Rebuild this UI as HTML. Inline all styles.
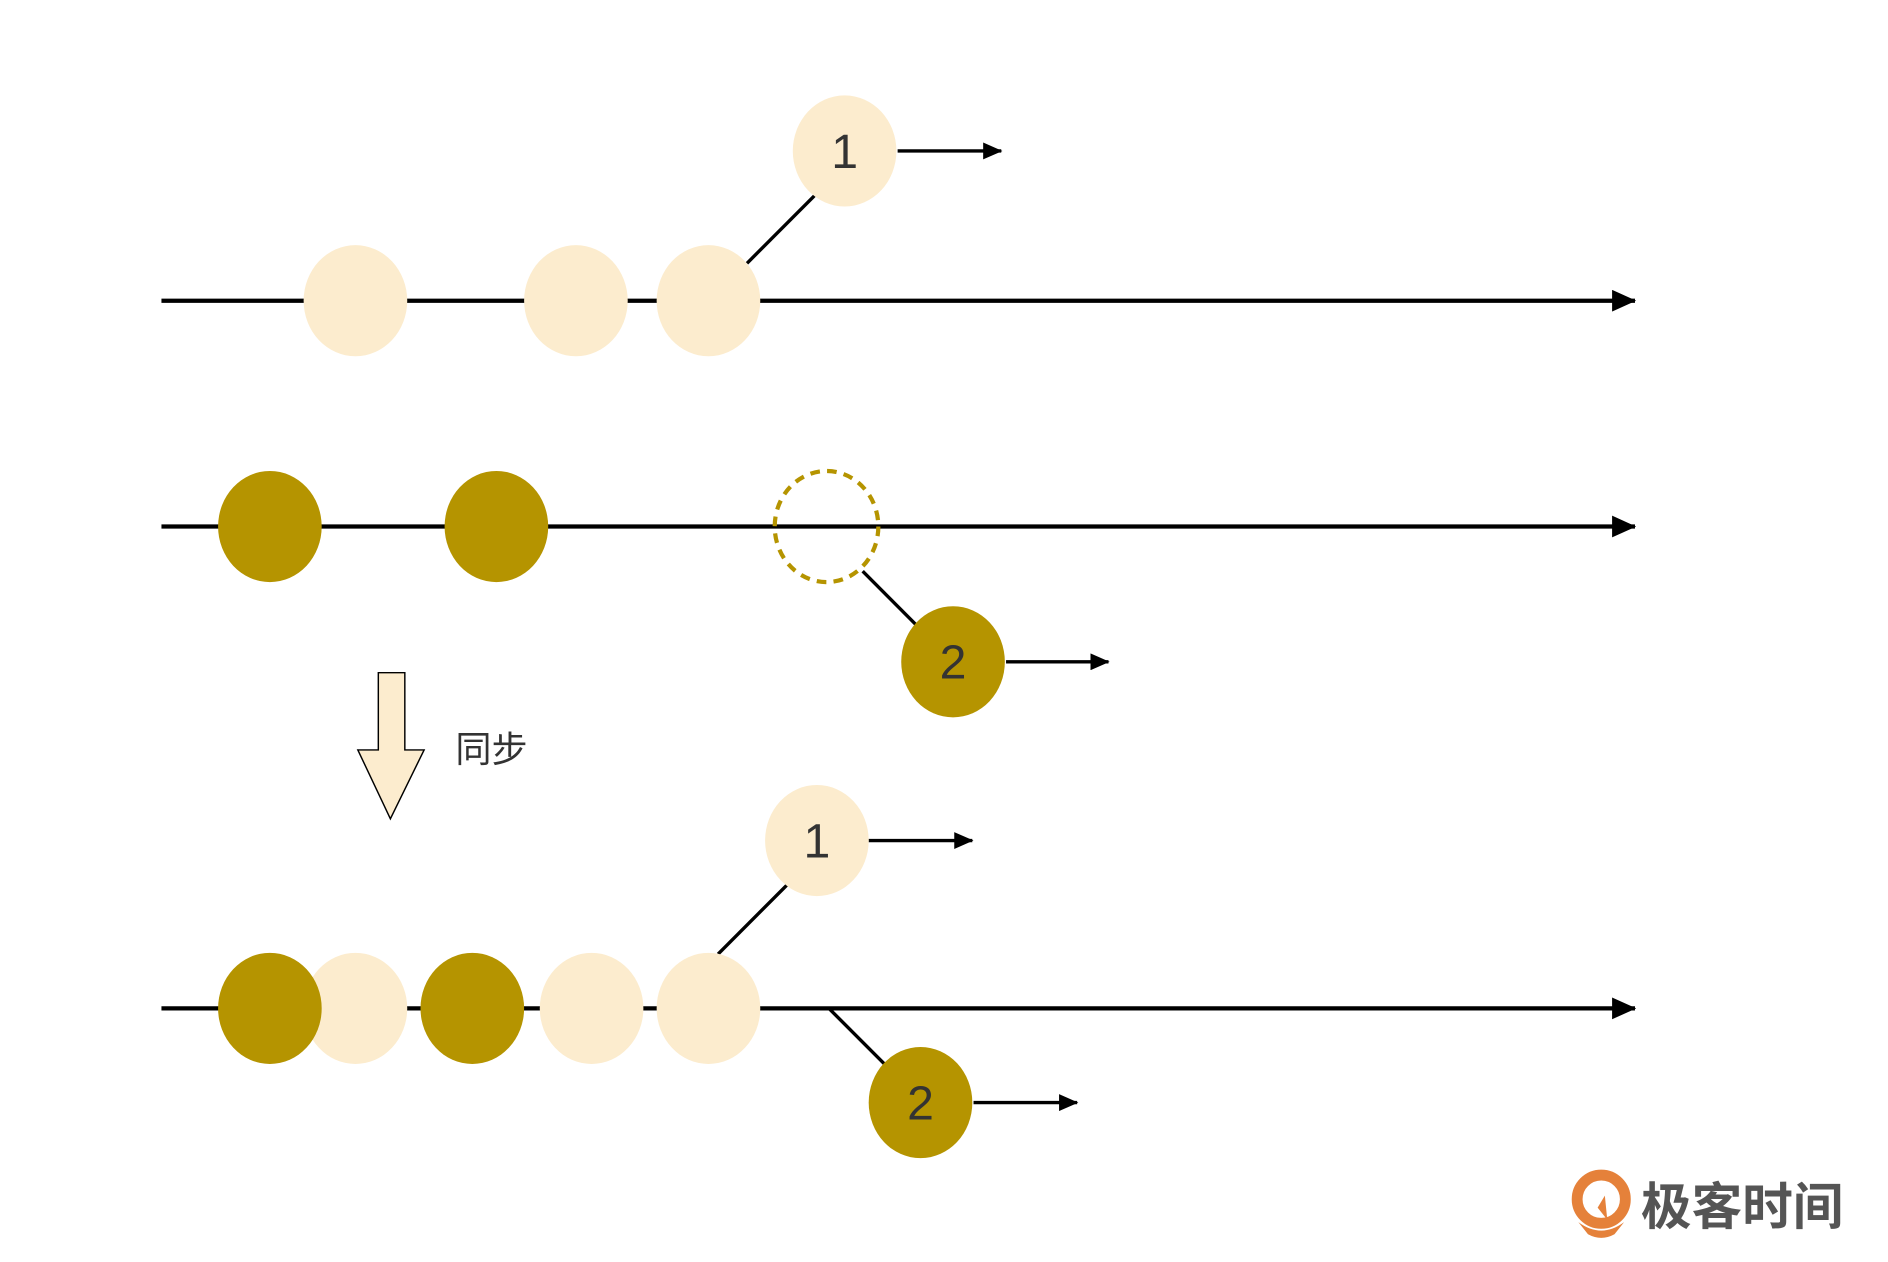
<!DOCTYPE html>
<html><head><meta charset="utf-8"><style>html,body{margin:0;padding:0;background:#fff}svg{display:block}</style></head>
<body>
<svg width="1888" height="1262" viewBox="0 0 1567 1045" preserveAspectRatio="none" xmlns="http://www.w3.org/2000/svg">
<defs><marker id="a" markerWidth="16" markerHeight="14" refX="15" refY="7" orient="auto" markerUnits="userSpaceOnUse"><path d="M0,0 L16,7 L0,14 z" fill="#000"/></marker>
<marker id="b" markerWidth="20" markerHeight="18" refX="19" refY="9" orient="auto" markerUnits="userSpaceOnUse"><path d="M0,0 L20,9 L0,18 z" fill="#000"/></marker></defs>
<g stroke="#000" stroke-width="3.5" fill="none">
<line x1="134" y1="249" x2="1357" y2="249" marker-end="url(#b)"/>
<line x1="134" y1="436" x2="1357" y2="436" marker-end="url(#b)"/>
<line x1="134" y1="835" x2="1357" y2="835" marker-end="url(#b)"/>
</g>
<g stroke="#000" stroke-width="2.8" fill="none">
<line x1="620" y1="218" x2="676" y2="162"/>
<line x1="745" y1="125" x2="831" y2="125" marker-end="url(#a)"/>
<line x1="716" y1="473" x2="762" y2="519"/>
<line x1="835" y1="548" x2="920" y2="548" marker-end="url(#a)"/>
<line x1="596" y1="790" x2="653" y2="733"/>
<line x1="721" y1="696" x2="807" y2="696" marker-end="url(#a)"/>
<line x1="688" y1="835" x2="736" y2="883"/>
<line x1="808" y1="913" x2="894" y2="913" marker-end="url(#a)"/>
</g>
<g fill="#fcecce">
<ellipse cx="295" cy="249" rx="43" ry="46"/><ellipse cx="478" cy="249" rx="43" ry="46"/><ellipse cx="588" cy="249" rx="43" ry="46"/>
<ellipse cx="701" cy="125" rx="43" ry="46"/>
<ellipse cx="295" cy="835" rx="43" ry="46"/><ellipse cx="491" cy="835" rx="43" ry="46"/><ellipse cx="588" cy="835" rx="43" ry="46"/>
<ellipse cx="678" cy="696" rx="43" ry="46"/>
</g>
<g fill="#b59400">
<ellipse cx="224" cy="436" rx="43" ry="46"/><ellipse cx="412" cy="436" rx="43" ry="46"/>
<ellipse cx="791" cy="548" rx="43" ry="46"/>
<ellipse cx="224" cy="835" rx="43" ry="46"/><ellipse cx="392" cy="835" rx="43" ry="46"/>
<ellipse cx="764" cy="913" rx="43" ry="46"/>
</g>
<ellipse cx="686" cy="436" rx="43" ry="46" fill="none" stroke="#b59400" stroke-width="3.5" stroke-dasharray="8,6"/>
<g font-family="Liberation Sans, sans-serif" font-size="40" fill="#333" text-anchor="middle">
<text x="701" y="139">1</text><text x="678" y="710">1</text>
<text x="791" y="562">2</text><text x="764" y="927">2</text>
</g>
<path d="M314,557 L336,557 L336,621 L352,621 L324,678 L297,621 L314,621 z" fill="#fcecce" stroke="#000" stroke-width="1.2"/>
<text x="378" y="631" font-family="Liberation Sans, Noto Sans CJK SC, sans-serif" font-size="30" fill="#333">同步</text>
<g>
<circle cx="1329" cy="993" r="20" fill="none" stroke="#e5813a" stroke-width="9"/>
<path d="M1310,1012 Q1329,1026 1348,1012 L1340,1022 Q1329,1028 1318,1022 z" fill="#e5813a"/>
<path d="M1326,1000 L1332,990 L1334,1010 z" fill="#e5813a"/>
<text x="1362" y="1014" font-family="Liberation Sans, Noto Sans CJK SC, sans-serif" font-size="42" font-weight="bold" fill="#555">极客时间</text>
</g>
</svg>
</body></html>
